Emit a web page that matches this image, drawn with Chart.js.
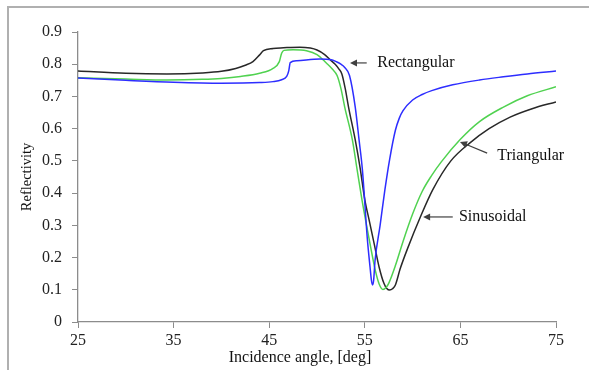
<!DOCTYPE html>
<html>
<head>
<meta charset="utf-8">
<script src="https://cdn.jsdelivr.net/npm/chart.js@4.4.1/dist/chart.umd.min.js"></script>
<style>
  html, body { margin: 0; padding: 0; background: #ffffff; overflow: hidden; width: 589px; height: 370px; }
  .fline { position: absolute; background: #b0b0b0; }
  #ftop { left: 7px; top: 6px; width: 582px; height: 2px; }
  #fleft { left: 7px; top: 6px; width: 2px; height: 364px; }
  #c { position: absolute; left: 0; top: 0; }
</style>
</head>
<body>
<div class="fline" id="ftop"></div>
<div class="fline" id="fleft"></div>
<canvas id="c" width="589" height="370"></canvas>
<script>
// ---- Data ----
const seriesNames = ['Rectangular', 'Triangular', 'Sinusoidal'];

const anglesRect = [25, 30, 35, 40, 44, 45.4, 46.3, 46.83, 47.05, 47.2, 47.9, 50.3, 51.5, 52.0, 52.5, 52.9, 53.4, 54.0, 54.4, 54.75, 55.26, 55.55, 55.7, 55.8, 55.92, 56.07, 56.6, 57.1, 57.6, 58.2, 58.6, 59.0, 60.0, 61.0, 62.0, 64.2, 67.0, 69.5, 72.0, 75];
const reflRect   = [0.757, 0.750, 0.744, 0.741, 0.743, 0.746, 0.752, 0.762, 0.780, 0.805, 0.811, 0.816, 0.814, 0.808, 0.800, 0.790, 0.765, 0.667, 0.565, 0.472, 0.260, 0.170, 0.128, 0.115, 0.128, 0.190, 0.300, 0.410, 0.505, 0.595, 0.632, 0.656, 0.689, 0.706, 0.718, 0.736, 0.751, 0.761, 0.770, 0.779];

const anglesTri = [25, 30, 34.3, 38, 40, 42, 44.0, 45.4, 46.06, 46.3, 46.55, 47.5, 48.9, 50.0, 51.0, 51.6, 52.1, 52.5, 52.9, 53.7, 54.2, 54.7, 55.5, 56.1, 56.5, 56.9, 57.2, 57.5, 58.2, 59.0, 60.0, 61.0, 62.0, 63.0, 65.0, 67.0, 69.5, 72.0, 75];
const reflTri   = [0.758, 0.754, 0.751, 0.753, 0.756, 0.762, 0.772, 0.787, 0.808, 0.834, 0.843, 0.845, 0.842, 0.830, 0.803, 0.785, 0.765, 0.725, 0.667, 0.565, 0.472, 0.380, 0.250, 0.160, 0.118, 0.101, 0.106, 0.120, 0.175, 0.250, 0.335, 0.405, 0.455, 0.497, 0.567, 0.622, 0.667, 0.702, 0.730];

const anglesSin = [25, 30, 34.3, 38, 40, 41.5, 42.5, 43.3, 44.0, 44.4, 45.4, 46.5, 48.2, 49.3, 50.0, 50.8, 51.4, 51.9, 52.3, 52.6, 52.95, 53.3, 54.0, 54.5, 55.0, 55.5, 56.0, 56.5, 57.0, 57.3, 57.6, 57.9, 58.2, 58.7, 59.5, 60.8, 62.1, 64.0, 66.0, 68.0, 70.2, 72.5, 75];
const reflSin   = [0.779, 0.772, 0.770, 0.773, 0.778, 0.787, 0.797, 0.808, 0.829, 0.842, 0.849, 0.851, 0.853, 0.850, 0.844, 0.830, 0.813, 0.800, 0.785, 0.770, 0.725, 0.667, 0.565, 0.480, 0.380, 0.310, 0.240, 0.170, 0.120, 0.104, 0.099, 0.103, 0.115, 0.165, 0.230, 0.325, 0.410, 0.500, 0.556, 0.600, 0.636, 0.662, 0.683];

const xTicks = [25, 35, 45, 55, 65, 75];
const yTicks = [0, 0.1, 0.2, 0.3, 0.4, 0.5, 0.6, 0.7, 0.8, 0.9];
const xTitle = 'Incidence angle, [deg]';
const yTitle = 'Reflectivity';

// Annotation labels (data coordinates)
const annLabelX = [56.3, 68.85, 64.85];
const annLabelY = [0.804, 0.515, 0.326];
const annTailX  = [55.2, 67.8, 64.2];
const annTailY  = [0.804, 0.524, 0.326];
const annTipX   = [53.45, 64.96, 61.1];
const annTipY   = [0.804, 0.559, 0.326];

// ---- Chart ----
const FONT = '"Liberation Serif", "Times New Roman", serif';
const colors = ['rgb(45,45,255)', 'rgb(80,210,80)', 'rgb(40,40,40)'];
const xs = [anglesRect, anglesTri, anglesSin];
const ys = [reflRect, reflTri, reflSin];

const datasets = seriesNames.map((name, i) => ({
  label: name,
  data: xs[i].map((a, k) => ({ x: a, y: ys[i][k] })),
  borderColor: colors[i],
  backgroundColor: colors[i],
  borderWidth: 1.5,
  pointRadius: 0,
  cubicInterpolationMode: 'monotone',
  fill: false
}));

const annotationPlugin = {
  id: 'annotations',
  afterDatasetsDraw(chart) {
    const { ctx, scales: { x, y }, chartArea } = chart;
    ctx.save();
    for (let i = 0; i < seriesNames.length; i++) {
      const x1 = x.getPixelForValue(annTailX[i]), y1 = y.getPixelForValue(annTailY[i]);
      const x2 = x.getPixelForValue(annTipX[i]),  y2 = y.getPixelForValue(annTipY[i]);
      const ang = Math.atan2(y2 - y1, x2 - x1);
      const hl = 7, hw = 3.5;
      ctx.strokeStyle = '#404040';
      ctx.fillStyle = '#404040';
      ctx.lineWidth = 1.2;
      ctx.beginPath();
      ctx.moveTo(x1, y1);
      ctx.lineTo(x2 - Math.cos(ang) * hl * 0.8, y2 - Math.sin(ang) * hl * 0.8);
      ctx.stroke();
      ctx.beginPath();
      ctx.moveTo(x2, y2);
      ctx.lineTo(x2 - Math.cos(ang) * hl - Math.sin(ang) * hw, y2 - Math.sin(ang) * hl + Math.cos(ang) * hw);
      ctx.lineTo(x2 - Math.cos(ang) * hl + Math.sin(ang) * hw, y2 - Math.sin(ang) * hl - Math.cos(ang) * hw);
      ctx.closePath();
      ctx.fill();
      ctx.fillStyle = '#111111';
      ctx.font = '16px ' + FONT;
      ctx.textAlign = 'left';
      ctx.textBaseline = 'middle';
      ctx.fillText(seriesNames[i], x.getPixelForValue(annLabelX[i]), y.getPixelForValue(annLabelY[i]));
    }
    ctx.fillStyle = '#111111';
    ctx.font = '16px ' + FONT;
    ctx.textAlign = 'center';
    ctx.textBaseline = 'middle';
    ctx.fillText(xTitle, (chartArea.left + chartArea.right) / 2 - 17, chartArea.bottom + 36);
    ctx.restore();
  }
};

new Chart(document.getElementById('c'), {
  type: 'line',
  data: { datasets },
  plugins: [annotationPlugin],
  options: {
    responsive: false,
    animation: false,
    devicePixelRatio: 1,
    layout: { padding: { top: 32, right: 33, bottom: 0, left: 0 } },
    plugins: { legend: { display: false }, tooltip: { enabled: false } },
    scales: {
      x: {
        type: 'linear',
        min: 25, max: 75,
        afterBuildTicks: s => { s.ticks = xTicks.map(v => ({ value: v })); },
        afterFit: s => { s.height = 48; },
        ticks: { font: { family: FONT, size: 16 }, color: '#222222', padding: 3 },
        grid: { display: true, drawOnChartArea: false, drawTicks: true, tickLength: 6, color: '#8c8c8c' },
        border: { display: true, color: '#8c8c8c', width: 1.3 }
      },
      y: {
        type: 'linear',
        min: 0, max: 0.9,
        afterBuildTicks: s => { s.ticks = yTicks.map(v => ({ value: v })); },
        afterFit: s => { s.width = 78; },
        ticks: { font: { family: FONT, size: 16 }, color: '#222222', padding: 10,
                 callback: v => String(Math.round(v * 10) / 10) },
        grid: { display: true, drawOnChartArea: false, drawTicks: true, tickLength: 6, color: '#8c8c8c' },
        border: { display: true, color: '#8c8c8c', width: 1.3 },
        title: { display: true, text: yTitle, color: '#111111', font: { family: FONT, size: 14.5 }, padding: { top: 18, bottom: 0 } }
      }
    }
  }
});
</script>
</body>
</html>
